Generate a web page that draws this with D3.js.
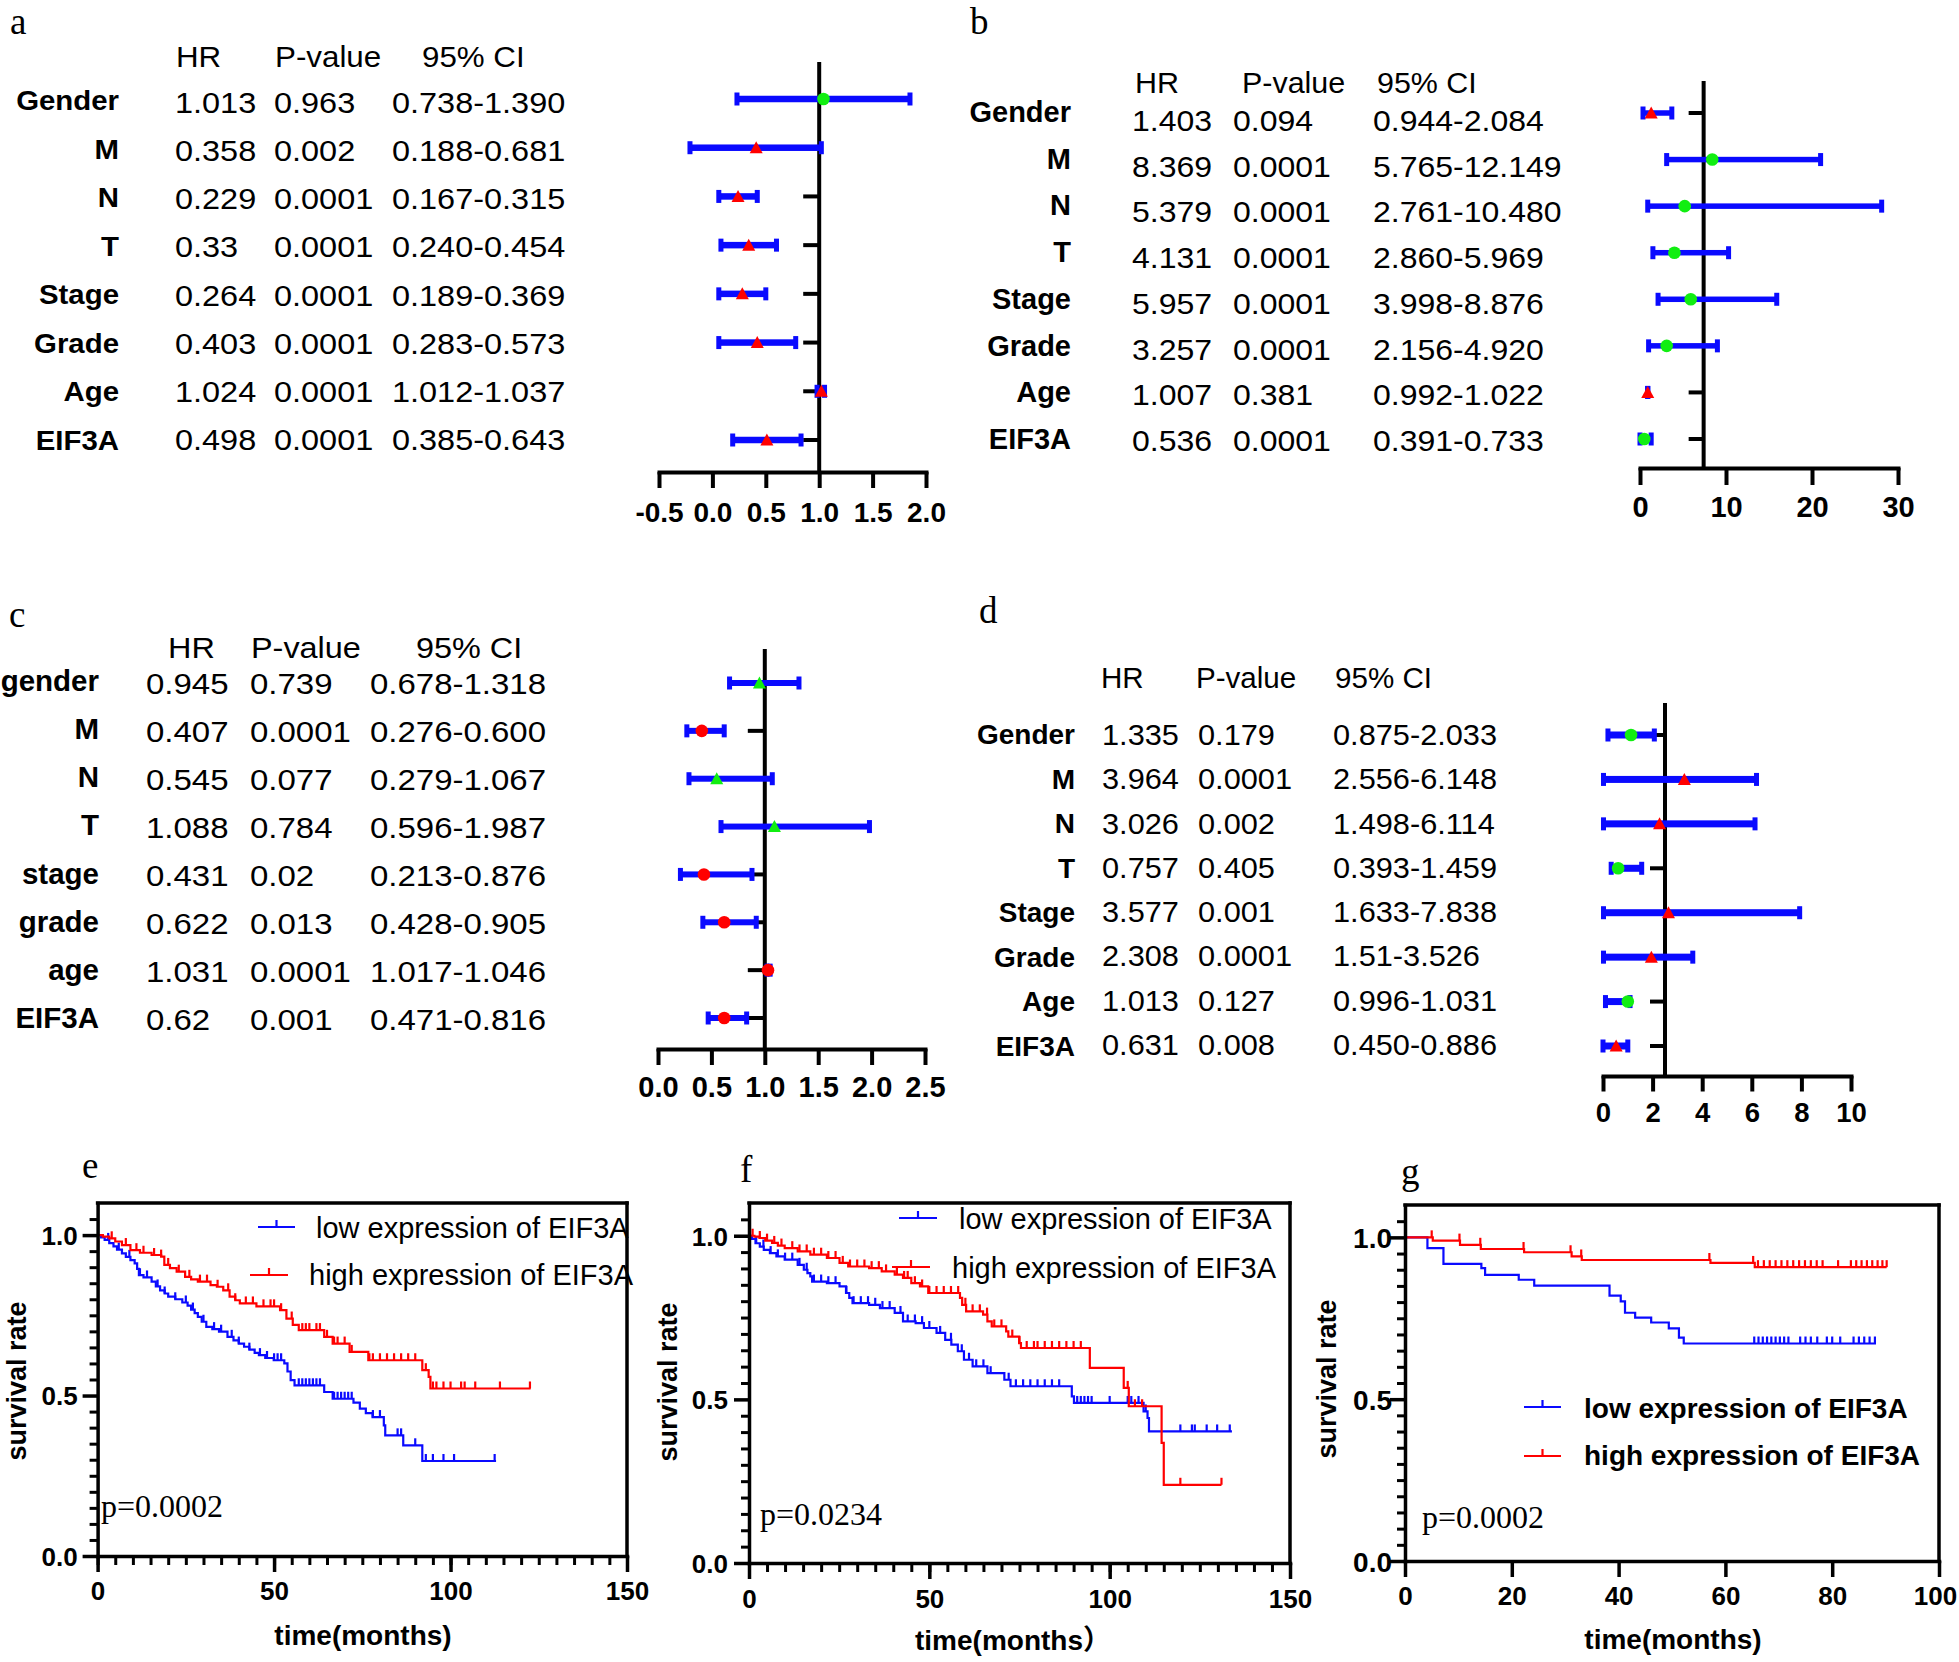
<!DOCTYPE html>
<html><head><meta charset="utf-8">
<script src="https://cdn.jsdelivr.net/npm/d3@7"></script>
<style>body{margin:0;background:#fff}svg{display:block}</style>
</head><body>
<svg id="c" width="1959" height="1662"></svg>
<script>
// ================= DATA =================
const factorsABD = ["Gender","M","N","T","Stage","Grade","Age","EIF3A"];
const factorsC = ["gender","M","N","T","stage","grade","age","EIF3A"];
const tableHeaders = ["HR","P-value","95% CI"];

// panel a
const hrA = ["1.013","0.358","0.229","0.33","0.264","0.403","1.024","0.498"];
const pA  = ["0.963","0.002","0.0001","0.0001","0.0001","0.0001","0.0001","0.0001"];
const ciA = ["0.738-1.390","0.188-0.681","0.167-0.315","0.240-0.454","0.189-0.369","0.283-0.573","1.012-1.037","0.385-0.643"];
const estA  = [1.04, 0.41, 0.24, 0.34, 0.28, 0.42, 1.02, 0.51];
const lowA  = [0.23, -0.21, 0.06, 0.08, 0.06, 0.06, 0.98, 0.19];
const highA = [1.85, 1.02, 0.42, 0.60, 0.50, 0.78, 1.05, 0.83];
const ticksA = [-0.5, 0, 0.5, 1, 1.5, 2];
const tickLabelsA = ["-0.5","0.0","0.5","1.0","1.5","2.0"];

// panel b
const hrB = ["1.403","8.369","5.379","4.131","5.957","3.257","1.007","0.536"];
const pB  = ["0.094","0.0001","0.0001","0.0001","0.0001","0.0001","0.381","0.0001"];
const ciB = ["0.944-2.084","5.765-12.149","2.761-10.480","2.860-5.969","3.998-8.876","2.156-4.920","0.992-1.022","0.391-0.733"];
const estB  = [1.3, 8.4, 5.2, 4.0, 5.9, 3.1, 0.9, 0.5];
const lowB  = [0.35, 3.1, 0.9, 1.5, 2.1, 1.0, 0.88, 0.0];
const highB = [3.7, 21.0, 28.1, 10.3, 15.9, 9.0, 0.92, 1.3];
const ticksB = [0, 10, 20, 30];
const tickLabelsB = ["0","10","20","30"];
const refB = 7.4;

// panel c
const hrC = ["0.945","0.407","0.545","1.088","0.431","0.622","1.031","0.62"];
const pC  = ["0.739","0.0001","0.077","0.784","0.02","0.013","0.0001","0.001"];
const ciC = ["0.678-1.318","0.276-0.600","0.279-1.067","0.596-1.987","0.213-0.876","0.428-0.905","1.017-1.046","0.471-0.816"];
const estC  = [0.95, 0.41, 0.55, 1.09, 0.43, 0.62, 1.03, 0.62];
const lowC  = [0.67, 0.27, 0.29, 0.59, 0.21, 0.42, 1.02, 0.47];
const highC = [1.32, 0.62, 1.07, 1.98, 0.88, 0.92, 1.05, 0.83];
const ticksC = [0, 0.5, 1, 1.5, 2, 2.5];
const tickLabelsC = ["0.0","0.5","1.0","1.5","2.0","2.5"];

// panel d
const hrD = ["1.335","3.964","3.026","0.757","3.577","2.308","1.013","0.631"];
const pD  = ["0.179","0.0001","0.002","0.405","0.001","0.0001","0.127","0.008"];
const ciD = ["0.875-2.033","2.556-6.148","1.498-6.114","0.393-1.459","1.633-7.838","1.51-3.526","0.996-1.031","0.450-0.886"];
const estD  = [1.13, 3.28, 2.28, 0.61, 2.64, 1.95, 1.0, 0.53];
const lowD  = [0.2, 0.02, 0.02, 0.33, 0.02, 0.02, 0.1, 0.0];
const highD = [2.07, 6.19, 6.13, 1.56, 7.93, 3.62, 1.09, 1.0];
const ticksD = [0, 2, 4, 6, 8, 10];
const tickLabelsD = ["0","2","4","6","8","10"];
const refD = 2.5;

// Kaplan-Meier: e
const eLowTime = [0,1,2,3.3,4.5,5.5,6.9,8,9.3,10.5,11.2,11.7,13,15.3,16.5,17.7,19,20,22,24,25.5,26.5,27.5,28.4,29.5,30.8,32.5,34.4,36.8,38.5,40,41.5,43,44.5,45.7,47.5,49.9,52.9,53.8,54.7,55.8,64.2,66.6,72.5,74.3,76,77.9,81.1,81.5,86.6,92,112.9];
const eLowSurv = [1,0.993,0.985,0.975,0.965,0.955,0.943,0.932,0.922,0.912,0.895,0.875,0.868,0.855,0.84,0.828,0.818,0.808,0.8,0.79,0.78,0.768,0.757,0.745,0.73,0.714,0.707,0.699,0.683,0.672,0.662,0.652,0.643,0.633,0.626,0.617,0.61,0.6,0.575,0.548,0.532,0.511,0.49,0.478,0.459,0.445,0.433,0.407,0.376,0.345,0.296,0.296];
const eHighTime = [0,1.5,3.3,5,6.9,9.3,12,15.3,18,18.9,20.5,22.4,24.8,26.5,28.4,32,33.8,35.6,37.4,39,40.3,45,51.7,53.5,55.3,57,64.2,66.6,71.4,76.7,92,93.8,94.3,122.7];
const eHighSurv = [1,0.995,0.99,0.98,0.969,0.953,0.945,0.938,0.933,0.907,0.897,0.886,0.87,0.862,0.855,0.844,0.839,0.828,0.808,0.797,0.787,0.778,0.766,0.74,0.72,0.704,0.683,0.662,0.636,0.61,0.579,0.558,0.522,0.522];
const eLowCensor = [3,6,9,12,14,17,19,22,25,27,30,33,35,38,40,43,46,48,50,51,52,57,58,59,60,61,62,63,67,68,69,70,71,72,78,80,85,86,90,93,95,98,101,112.5];
const eHighCensor = [4,8,11,13,16,18,20,23,26,29,31,34,37,39,42,44,47,49,50,52,55,58,59,60,62,63,65,67,68,70,72,77,78,80,82,84,86,88,90,93,95,96,98,100,103,104,107,114,122.5];

// Kaplan-Meier: f
const fLowTime = [0,0.8,1.8,3,4.1,5.8,7.6,9.9,13.5,15.2,16.2,17,17.5,21.6,25.1,26.9,27.8,28.7,33.3,36.3,40.4,42.7,46.2,48.5,52,54.4,56.1,57.9,59.6,62,66.1,70.8,72.5,89.5,90.1,109.4,110.5,110.9,133.9];
const fLowSurv = [1,0.99,0.977,0.967,0.957,0.947,0.937,0.927,0.911,0.896,0.886,0.876,0.86,0.855,0.845,0.825,0.81,0.794,0.789,0.779,0.764,0.738,0.733,0.718,0.703,0.682,0.667,0.647,0.621,0.601,0.58,0.56,0.54,0.509,0.489,0.463,0.443,0.402,0.402];
const fHighTime = [0,1.5,2.9,4.5,6.4,8,9.9,13.5,17,21.6,25.1,27.5,33.3,36.8,40.4,42.7,45,47.4,49.7,58.5,59.1,60.2,64.9,66.1,67.3,71.3,71.9,74.9,75.4,94.5,103.9,105.3,114.4,115,131];
const fHighSurv = [1,0.997,0.993,0.985,0.978,0.97,0.962,0.952,0.942,0.932,0.917,0.906,0.901,0.891,0.881,0.871,0.855,0.845,0.825,0.81,0.789,0.769,0.759,0.738,0.723,0.708,0.692,0.672,0.657,0.596,0.535,0.479,0.367,0.239,0.239];
const fLowCensor = [2,4,6,8,10,12,14,16,18,20,22,24,27,29,31,33,35,37,39,42,44,46,48,50,53,56,59,61,63,65,67,72,74,76,78,80,82,84,86,91,92,93,94,95,100,105,106,108,110,119.6,122.8,123.6,126.9,129.8,133.3];
const fHighCensor = [1,3,5,7,9,12,14,16,18,20,22,24,26,28,30,32,34,36,38,41,43,44,46,48,50,52,54,56,58,60,62,64,66,68,70,73,75,77,79,80,82,84,86,88,90,92,105,107,109,119.6,131];

// Kaplan-Meier: g
const gLowTime = [0,4.2,7.2,14.3,15,21.3,24.2,38.3,40.4,41.2,43.1,46.1,49.4,51.3,52.2,88.2];
const gLowSurv = [1,0.967,0.918,0.905,0.884,0.869,0.851,0.82,0.802,0.767,0.752,0.737,0.719,0.69,0.672,0.672];
const gHighTime = [0,5.2,10.3,14.2,22.3,31.2,33.1,57.2,65.5,90.2];
const gHighSurv = [1,0.99,0.977,0.964,0.954,0.941,0.93,0.921,0.908,0.908];
const gLowCensor = [65.4,66.2,67,67.8,68.6,69.4,70.2,71,71.8,74,75,76,77.2,79,80,81.5,84,85,86,87,88];
const gHighCensor = [5,10.2,14.1,22.2,31,33,57,65.2,66.1,67.2,68.3,69.4,70.5,71.6,72.7,73.8,74.9,76,77.1,78.2,81.1,83.5,84.5,85.5,86.5,87.5,88.5,89.4,90.2];

const kmYTicks = [0, 0.5, 1.0];
const kmYMinor = [0.05,0.1,0.15,0.2,0.25,0.3,0.35,0.4,0.45,0.55,0.6,0.65,0.7,0.75,0.8,0.85,0.9,0.95,1.05];
const kmXTicksEF = [0, 50, 100, 150];
const kmXTicksG = [0, 20, 40, 60, 80, 100];
const legendLabels = ["low expression of EIF3A", "high expression of EIF3A"];
const pValues = ["p=0.0002", "p=0.0234", "p=0.0002"];

// ================= DRAWING =================
const svg = d3.select("#c");
const SANS = "'Liberation Sans', Arial, 'Noto Sans CJK SC', sans-serif";
const SERIF = "'Liberation Serif', 'Times New Roman', serif";
const BLUE = "#0a0aff", RED = "#ff0000", GREEN = "#11ee11";

function txt(g, x, y, s, fs, opt = {}) {
  const t = g.append("text")
    .attr("font-family", opt.family || SANS).attr("font-size", fs)
    .attr("font-weight", opt.bold ? "bold" : "normal")
    .attr("text-anchor", opt.anchor || "start").attr("fill", "#000").text(s);
  if (opt.sx && opt.sx !== 1) t.attr("transform", `translate(${x},${y}) scale(${opt.sx},1)`);
  else t.attr("x", x).attr("y", y);
  return t;
}

function letter(s, x, y) { txt(svg, x, y, s, 37, {family: SERIF}); }

function drawForest(c) {
  const g = svg.append("g");
  tableHeaders.forEach((h, i) => txt(g, c.headX[i], c.headY, h, c.headFS, {sx: c.headSX}));
  const labY = d3.scalePoint().domain(c.factors).range([c.labY0, c.labY1]);
  const valY = d3.scalePoint().domain(c.factors).range([c.valY0, c.valY1]);
  c.factors.forEach((f, i) => {
    txt(g, c.labRight, labY(f), f, c.labFS, {bold: true, anchor: "end", sx: c.labSX});
    [c.hr, c.p, c.ci].forEach((arr, j) => txt(g, c.valX[j], valY(f), arr[i], c.valFS, {sx: c.valSX}));
  });

  const x = d3.scaleLinear().domain(c.domain).range(c.xRange);
  const y = d3.scalePoint().domain(c.factors).range([c.rowY0, c.rowY1]);

  c.factors.forEach(f => g.append("line")
    .attr("x1", x(c.ref) - c.yTickLen).attr("x2", x(c.ref))
    .attr("y1", y(f)).attr("y2", y(f)).attr("stroke", "#000").attr("stroke-width", 4));

  const ax = g.append("g").attr("transform", `translate(0,${c.axisY})`)
    .call(d3.axisBottom(x).tickValues(c.ticks).tickFormat((d, i) => c.tickLabels[i])
      .tickSize(c.tickLen).tickSizeOuter(0));
  ax.select(".domain").attr("stroke", "#000").attr("stroke-width", 4).attr("stroke-linecap", "square");
  ax.selectAll(".tick line").attr("stroke", "#000").attr("stroke-width", 4);
  ax.selectAll(".tick text").attr("y", c.tickLabY - c.axisY).attr("dy", null)
    .attr("font-family", SANS).attr("font-size", c.tickFS).attr("font-weight", "bold").attr("fill", "#000");

  g.append("line").attr("x1", x(c.ref)).attr("x2", x(c.ref))
    .attr("y1", c.vTop).attr("y2", c.axisY).attr("stroke", "#000").attr("stroke-width", 4);

  c.factors.forEach((f, i) => {
    const x0 = x(c.low[i]), x1 = x(c.high[i]), yy = y(f);
    g.append("rect").attr("x", x0).attr("y", yy - c.barH / 2).attr("width", Math.max(0, x1 - x0))
      .attr("height", c.barH).attr("fill", BLUE);
    [x0, x1].forEach(xx => g.append("rect").attr("x", xx - 2.5).attr("y", yy - 6.5)
      .attr("width", 5).attr("height", 13).attr("fill", BLUE));
    const sig = +c.p[i] < 0.05;
    const m = sig ? c.sigMarker : c.nsMarker;
    const cx = x(c.est[i]);
    if (m.shape === "circle") {
      g.append("circle").attr("cx", cx).attr("cy", yy).attr("r", 6.3).attr("fill", m.color);
    } else {
      g.append("path").attr("d", `M${cx - 6.5},${yy + 5.5}L${cx + 6.5},${yy + 5.5}L${cx},${yy - 6.5}Z`)
        .attr("fill", m.color);
    }
  });
}

drawForest({
  factors: factorsABD, hr: hrA, p: pA, ci: ciA, est: estA, low: lowA, high: highA,
  headX: [176, 275, 422], headY: 67, headFS: 29, headSX: 1.08,
  labRight: 119, labY0: 110, labY1: 450, labFS: 28, labSX: 1.05,
  valX: [175, 274, 392], valY0: 113, valY1: 450, valFS: 29, valSX: 1.12,
  domain: [-0.5, 2], xRange: [659, 926], axisY: 472, vTop: 62, ref: 1,
  rowY0: 99, rowY1: 440, ticks: ticksA, tickLabels: tickLabelsA, tickLabY: 522,
  tickLen: 16, yTickLen: 16, tickFS: 28, barH: 6.5,
  sigMarker: {shape: "triangle", color: RED}, nsMarker: {shape: "circle", color: GREEN}
});

drawForest({
  factors: factorsABD, hr: hrB, p: pB, ci: ciB, est: estB, low: lowB, high: highB,
  headX: [1135, 1242, 1377], headY: 93, headFS: 29, headSX: 1.05,
  labRight: 1071, labY0: 122, labY1: 449, labFS: 29, labSX: 1,
  valX: [1132, 1233, 1373], valY0: 131, valY1: 451, valFS: 29.5, valSX: 1.085,
  domain: [0, 30], xRange: [1640, 1898], axisY: 468, vTop: 81, ref: refB,
  rowY0: 113, rowY1: 439, ticks: ticksB, tickLabels: tickLabelsB, tickLabY: 517,
  tickLen: 17, yTickLen: 15, tickFS: 29, barH: 5.5,
  sigMarker: {shape: "circle", color: GREEN}, nsMarker: {shape: "triangle", color: RED}
});

drawForest({
  factors: factorsC, hr: hrC, p: pC, ci: ciC, est: estC, low: lowC, high: highC,
  headX: [168, 251, 416], headY: 658, headFS: 30, headSX: 1.08,
  labRight: 99, labY0: 691, labY1: 1028, labFS: 29.5, labSX: 1,
  valX: [146, 250, 370], valY0: 694, valY1: 1030, valFS: 30, valSX: 1.1,
  domain: [0, 2.5], xRange: [658, 925], axisY: 1049, vTop: 649, ref: 1,
  rowY0: 683, rowY1: 1018, ticks: ticksC, tickLabels: tickLabelsC, tickLabY: 1097,
  tickLen: 16, yTickLen: 17, tickFS: 29, barH: 6,
  sigMarker: {shape: "circle", color: RED}, nsMarker: {shape: "triangle", color: GREEN}
});

drawForest({
  factors: factorsABD, hr: hrD, p: pD, ci: ciD, est: estD, low: lowD, high: highD,
  headX: [1101, 1196, 1335], headY: 688, headFS: 29, headSX: 1.02,
  labRight: 1075, labY0: 744, labY1: 1056, labFS: 28, labSX: 1,
  valX: [1102, 1198, 1333], valY0: 745, valY1: 1055, valFS: 29, valSX: 1.06,
  domain: [0, 10], xRange: [1603, 1851], axisY: 1076, vTop: 703, ref: refD,
  rowY0: 735, rowY1: 1046, ticks: ticksD, tickLabels: tickLabelsD, tickLabY: 1122,
  tickLen: 15.5, yTickLen: 15, tickFS: 27.5, barH: 7,
  sigMarker: {shape: "triangle", color: RED}, nsMarker: {shape: "circle", color: GREEN}
});

function drawKM(c) {
  const g = svg.append("g");
  const x = d3.scaleLinear().domain([0, c.xMax]).range([c.left, c.right]);
  const y = d3.scaleLinear().domain([0, 1.1]).range([c.bottom, c.top]);
  const LW = 3.5;

  const line = d3.line().x(d => x(d[0])).y(d => y(d[1])).curve(d3.curveStepAfter);
  [[c.lowT, c.lowS, c.lowC, BLUE], [c.highT, c.highS, c.highC, RED]].forEach(([T, S, C, col]) => {
    const pts = T.map((t, i) => [t, S[i]]);
    g.append("path").attr("d", line(pts)).attr("fill", "none").attr("stroke", col).attr("stroke-width", 2.2);
    C.forEach(t => {
      const s = S[Math.max(0, d3.bisectRight(T, t) - 1)];
      g.append("line").attr("x1", x(t)).attr("x2", x(t)).attr("y1", y(s)).attr("y2", y(s) - 7)
        .attr("stroke", col).attr("stroke-width", 2.2);
    });
  });

  g.append("line").attr("x1", c.left).attr("x2", c.right).attr("y1", c.top).attr("y2", c.top)
    .attr("stroke", "#000").attr("stroke-width", LW).attr("stroke-linecap", "square");
  g.append("line").attr("x1", c.right).attr("x2", c.right).attr("y1", c.top).attr("y2", c.bottom)
    .attr("stroke", "#000").attr("stroke-width", LW).attr("stroke-linecap", "square");

  if (c.xMinor) {
    const mx = g.append("g").attr("transform", `translate(0,${c.bottom})`)
      .call(d3.axisBottom(x).tickValues(c.xMinor).tickFormat("").tickSize(9).tickSizeOuter(0));
    mx.select(".domain").remove();
    mx.selectAll(".tick line").attr("stroke", "#000").attr("stroke-width", 3);
  }
  const ax = g.append("g").attr("transform", `translate(0,${c.bottom})`)
    .call(d3.axisBottom(x).tickValues(c.xTicks).tickFormat(d3.format("d")).tickSize(16).tickSizeOuter(0));
  ax.select(".domain").attr("stroke", "#000").attr("stroke-width", LW).attr("stroke-linecap", "square");
  ax.selectAll(".tick line").attr("stroke", "#000").attr("stroke-width", 3.5);
  ax.selectAll(".tick text").attr("y", c.xLabOff).attr("dy", null)
    .attr("font-family", SANS).attr("font-size", c.tickFS).attr("font-weight", "bold").attr("fill", "#000")
    .attr("dx", d => (d === c.xMax && c.lastDx) ? c.lastDx : null);

  const my = g.append("g").attr("transform", `translate(${c.left},0)`)
    .call(d3.axisLeft(y).tickValues(kmYMinor).tickFormat("").tickSize(8).tickSizeOuter(0));
  my.select(".domain").remove();
  my.selectAll(".tick line").attr("stroke", "#000").attr("stroke-width", 3);
  const ay = g.append("g").attr("transform", `translate(${c.left},0)`)
    .call(d3.axisLeft(y).tickValues(kmYTicks).tickFormat(d3.format(".1f")).tickSize(15).tickSizeOuter(0));
  ay.select(".domain").attr("stroke", "#000").attr("stroke-width", LW).attr("stroke-linecap", "square");
  ay.selectAll(".tick line").attr("stroke", "#000").attr("stroke-width", 3.5);
  ay.selectAll(".tick text").attr("x", -c.yLabOff).attr("dy", "0.36em")
    .attr("font-family", SANS).attr("font-size", c.yTickFS || c.tickFS).attr("font-weight", "bold").attr("fill", "#000");

  g.append("text").attr("transform", `translate(${c.yTitleX},${c.yTitleY}) rotate(-90)`)
    .attr("text-anchor", "middle").attr("font-family", SANS).attr("font-size", 27)
    .attr("font-weight", "bold").text("survival rate");
  txt(g, c.xTitleX, c.xTitleY, c.xTitle, 28, {bold: true, anchor: "middle"});

  [[BLUE, c.leg[0]], [RED, c.leg[1]]].forEach(([col, L], i) => {
    g.append("line").attr("x1", L.x1).attr("x2", L.x2).attr("y1", L.y).attr("y2", L.y)
      .attr("stroke", col).attr("stroke-width", 2.2);
    const mid = (L.x1 + L.x2) / 2;
    g.append("line").attr("x1", mid).attr("x2", mid).attr("y1", L.y).attr("y2", L.y - 7)
      .attr("stroke", col).attr("stroke-width", 2.2);
    txt(g, L.tx, L.ty, legendLabels[i], c.legFS, {bold: c.legBold});
  });

  txt(g, c.pX, c.pY, c.pText, 32, {family: SERIF});
}

drawKM({
  xMax: 150, left: 97.6, right: 627, top: 1203, bottom: 1556,
  xTicks: kmXTicksEF, xMinor: d3.range(0, 151, 5), xLabOff: 44, yLabOff: 20, tickFS: 26,
  lowT: eLowTime, lowS: eLowSurv, lowC: eLowCensor, highT: eHighTime, highS: eHighSurv, highC: eHighCensor,
  yTitleX: 26, yTitleY: 1381, xTitleX: 363, xTitleY: 1645, xTitle: "time(months)",
  leg: [{x1: 258, x2: 295, y: 1227, tx: 316, ty: 1238}, {x1: 250, x2: 288, y: 1275, tx: 309, ty: 1285}],
  legFS: 29, legBold: false, pX: 101, pY: 1517, pText: pValues[0]
});

drawKM({
  xMax: 150, left: 749, right: 1290, top: 1203, bottom: 1563,
  xTicks: kmXTicksEF, xMinor: d3.range(0, 151, 5), xLabOff: 45, yLabOff: 21, tickFS: 26,
  lowT: fLowTime, lowS: fLowSurv, lowC: fLowCensor, highT: fHighTime, highS: fHighSurv, highC: fHighCensor,
  yTitleX: 677, yTitleY: 1382, xTitleX: 1013, xTitleY: 1650, xTitle: "time(months\uFF09",
  leg: [{x1: 899, x2: 937, y: 1218, tx: 959, ty: 1229}, {x1: 892, x2: 930, y: 1267, tx: 952, ty: 1278}],
  legFS: 29, legBold: false, pX: 760, pY: 1525, pText: pValues[1]
});

drawKM({
  xMax: 100, left: 1405, right: 1939, top: 1205, bottom: 1561,
  xTicks: kmXTicksG, xMinor: null, xLabOff: 44, yLabOff: 13, tickFS: 26, yTickFS: 28, lastDx: -4,
  lowT: gLowTime, lowS: gLowSurv, lowC: gLowCensor, highT: gHighTime, highS: gHighSurv, highC: gHighCensor,
  yTitleX: 1336, yTitleY: 1379, xTitleX: 1673, xTitleY: 1649, xTitle: "time(months)",
  leg: [{x1: 1524, x2: 1561, y: 1407, tx: 1584, ty: 1418}, {x1: 1524, x2: 1561, y: 1456, tx: 1584, ty: 1465}],
  legFS: 28, legBold: true, pX: 1422, pY: 1528, pText: pValues[2]
});

letter("a", 10, 34);
letter("b", 970, 34);
letter("c", 9, 627);
letter("d", 979, 623);
letter("e", 82, 1178);
letter("f", 740, 1182);
letter("g", 1401, 1184);
</script>
</body></html>
